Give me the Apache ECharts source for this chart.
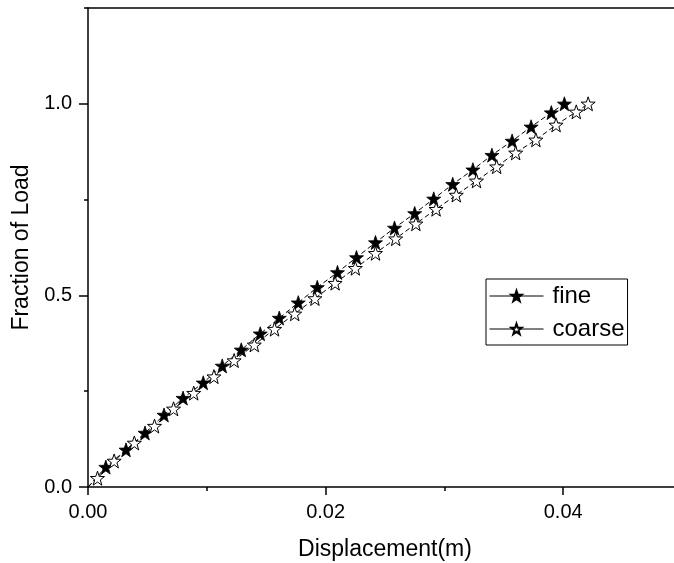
<!DOCTYPE html>
<html>
<head>
<meta charset="utf-8">
<script src="https://cdn.jsdelivr.net/npm/echarts@6/dist/echarts.min.js"></script>
<style>
html,body{margin:0;padding:0;background:#fff;}
#chart{width:674px;height:563px;}
</style>
</head>
<body>
<div id="chart"></div>
<script>
// ---- data ----
const fineX = [0, 0.0015, 0.0032, 0.0048, 0.0064, 0.0080, 0.0097, 0.0113, 0.0129, 0.0145, 0.0161, 0.0177, 0.0193, 0.0210, 0.0226, 0.0242, 0.0258, 0.0275, 0.0291, 0.0307, 0.0324, 0.0340, 0.0357, 0.0373, 0.0390, 0.0401];
const fineY = [0, 0.052, 0.097, 0.141, 0.188, 0.232, 0.272, 0.316, 0.358, 0.400, 0.441, 0.481, 0.521, 0.560, 0.599, 0.638, 0.676, 0.714, 0.752, 0.790, 0.828, 0.866, 0.903, 0.940, 0.977, 1.000];
const coarseX = [0, 0.0008, 0.0022, 0.0039, 0.0056, 0.0072, 0.0089, 0.0106, 0.0123, 0.0140, 0.0157, 0.0174, 0.0191, 0.0208, 0.0225, 0.0242, 0.0259, 0.0276, 0.0293, 0.0310, 0.0327, 0.0344, 0.0360, 0.0377, 0.0394, 0.0411, 0.0421];
const coarseY = [0, 0.023, 0.068, 0.115, 0.159, 0.204, 0.245, 0.288, 0.330, 0.371, 0.412, 0.452, 0.492, 0.532, 0.571, 0.610, 0.648, 0.687, 0.725, 0.762, 0.799, 0.836, 0.872, 0.906, 0.945, 0.979, 1.000];
const seriesNames = ['fine', 'coarse'];
const xMajorTicks = [0, 0.02, 0.04];
const xMinorTicks = [0.01, 0.03];
const yMajorTicks = [0, 0.5, 1.0];
const yMinorTicks = [0.25, 0.75, 1.25];
const xTitle = 'Displacement(m)';
const yTitle = 'Fraction of Load';

const STAR = 'path://M0,-10 L2.35,-3.24 L9.51,-3.09 L3.80,1.24 L5.88,8.09 L0,4 L-5.88,8.09 L-3.80,1.24 L-9.51,-3.09 L-2.35,-3.24 Z';
const FONT = 'Liberation Sans, Arial, sans-serif';

function zip(xs, ys) {
  return xs.map((x, i) => {
    const item = { value: [x, ys[i]] };
    if (x === 0 && ys[i] === 0) item.symbol = 'none';
    return item;
  });
}

const gridPos = { left: 88, right: -8, top: 8, bottom: 76, outerBoundsMode: 'none', containLabel: false };
const axisLine = { show: true, onZero: false, lineStyle: { color: '#000', width: 1.5 } };

const chart = echarts.init(document.getElementById('chart'), null, { renderer: 'canvas' });
chart.setOption({
  backgroundColor: '#fff',
  animation: false,
  grid: [Object.assign({}, gridPos), Object.assign({}, gridPos)],
  xAxis: [
    {
      type: 'value', gridIndex: 0, min: 0, max: 0.05, interval: 0.01, position: 'bottom',
      axisLine: axisLine,
      axisTick: { show: true, inside: false, length: 8, customValues: xMajorTicks, lineStyle: { color: '#000', width: 1.5 } },
      axisLabel: { show: true, customValues: xMajorTicks, margin: 15, color: '#000', fontSize: 20, fontFamily: FONT,
        formatter: v => v.toFixed(2) },
      splitLine: { show: false },
      name: xTitle, nameLocation: 'middle', nameGap: 51,
      nameTextStyle: { color: '#000', fontSize: 23, fontFamily: FONT }
    },
    {
      type: 'value', gridIndex: 1, min: 0, max: 0.05, interval: 0.01, position: 'bottom',
      axisLine: { show: false },
      axisTick: { show: true, inside: false, length: 4, customValues: xMinorTicks, lineStyle: { color: '#000', width: 1.5 } },
      axisLabel: { show: false },
      splitLine: { show: false }
    },
    {
      type: 'value', gridIndex: 1, min: 0, max: 0.05, position: 'top',
      axisLine: axisLine,
      axisTick: { show: false }, axisLabel: { show: false }, splitLine: { show: false }
    }
  ],
  yAxis: [
    {
      type: 'value', gridIndex: 0, min: 0, max: 1.25, interval: 0.25, position: 'left',
      axisLine: axisLine,
      axisTick: { show: true, inside: false, length: 9, customValues: yMajorTicks, lineStyle: { color: '#000', width: 1.5 } },
      axisLabel: { show: true, customValues: yMajorTicks, margin: 16, color: '#000', fontSize: 20, fontFamily: FONT,
        formatter: v => v.toFixed(1) },
      splitLine: { show: false },
      name: yTitle, nameLocation: 'middle', nameGap: 51,
      nameTextStyle: { color: '#000', fontSize: 23, fontFamily: FONT }
    },
    {
      type: 'value', gridIndex: 1, min: 0, max: 1.25, interval: 0.25, position: 'left',
      axisLine: { show: false },
      axisTick: { show: true, inside: false, length: 4, customValues: yMinorTicks, lineStyle: { color: '#000', width: 1.5 } },
      axisLabel: { show: false },
      splitLine: { show: false }
    }
  ],
  legend: {
    orient: 'vertical', left: 486, top: 279,
    padding: [5, 3, 4, 3],
    itemGap: 9,
    itemWidth: 54, itemHeight: 13,
    borderColor: '#000', borderWidth: 1,
    textStyle: { color: '#000', fontSize: 24, fontFamily: FONT, padding: [0, 0, 0, 4] },
    lineStyle: { type: 'solid', width: 1, color: '#000' },
    data: seriesNames
  },
  series: [
    {
      name: seriesNames[0], type: 'line', xAxisIndex: 0, yAxisIndex: 0,
      data: zip(fineX, fineY),
      symbol: STAR, symbolSize: 14,
      itemStyle: { color: '#000', borderColor: '#000', borderWidth: 0.8 },
      lineStyle: { color: '#000', width: 1, type: [5, 3] },
      clip: false
    },
    {
      name: seriesNames[1], type: 'line', xAxisIndex: 0, yAxisIndex: 0,
      data: zip(coarseX, coarseY),
      symbol: STAR, symbolSize: 14,
      itemStyle: { color: '#fff', borderColor: '#000', borderWidth: 1 },
      lineStyle: { color: '#000', width: 1, type: [5, 3] },
      clip: false
    }
  ]
});
</script>
</body>
</html>
